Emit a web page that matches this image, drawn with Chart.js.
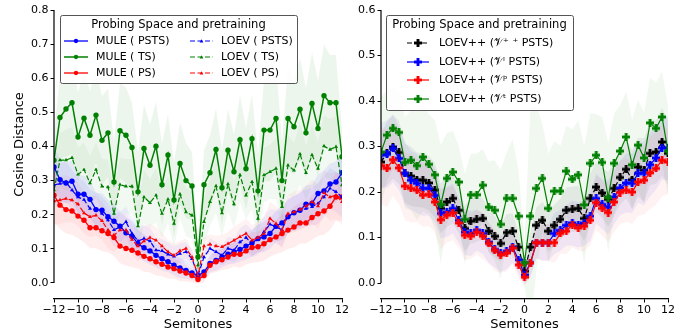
<!DOCTYPE html>
<html>
<head>
<meta charset="utf-8">
<script src="https://cdn.jsdelivr.net/npm/chart.js"></script>
<style>
  html, body { margin: 0; padding: 0; background: #fff; }
  #wrap { display: flex; width: 694px; height: 332px; }
  canvas { display: block; }
</style>
</head>
<body>
<div id="wrap">
  <canvas id="left" width="352" height="332"></canvas>
  <canvas id="right" width="342" height="332"></canvas>
</div>
<script>
// x positions (semitones), half-step grid
const semitones = [-12,-11.5,-11,-10.5,-10,-9.5,-9,-8.5,-8,-7.5,-7,-6.5,-6,-5.5,-5,-4.5,-4,-3.5,-3,-2.5,-2,-1.5,-1,-0.5,
  0,0.5,1,1.5,2,2.5,3,3.5,4,4.5,5,5.5,6,6.5,7,7.5,8,8.5,9,9.5,10,10.5,11,11.5,12];
const xTicks = [-12,-10,-8,-6,-4,-2,0,2,4,6,8,10,12];
const yTicksLeft = [0,0.1,0.2,0.3,0.4,0.5,0.6,0.7,0.8];
const yTicksRight = [0,0.1,0.2,0.3,0.4,0.5,0.6];

// ---- left panel ----
const mulePsts = [0.34,0.303,0.293,0.298,0.26,0.26,0.245,0.215,0.213,0.194,0.181,0.166,0.147,0.137,0.115,0.103,0.094,0.081,0.071,0.062,0.052,0.044,0.037,0.029,
  0.022,0.032,0.057,0.066,0.076,0.084,0.091,0.098,0.108,0.117,0.13,0.135,0.145,0.166,0.176,0.194,0.206,0.213,0.231,0.233,0.262,0.27,0.29,0.296,0.323];
const muleTs = [0.36,0.485,0.51,0.528,0.428,0.483,0.433,0.492,0.418,0.44,0.296,0.446,0.433,0.397,0.267,0.394,0.345,0.401,0.288,0.375,0.243,0.35,0.30,0.284,
  0.076,0.288,0.323,0.391,0.279,0.389,0.326,0.42,0.335,0.423,0.27,0.448,0.448,0.482,0.30,0.482,0.458,0.509,0.44,0.526,0.453,0.549,0.528,0.528,0.37];
const mulePs = [0.257,0.228,0.215,0.211,0.196,0.184,0.162,0.162,0.153,0.145,0.133,0.108,0.101,0.096,0.088,0.078,0.071,0.062,0.055,0.047,0.042,0.035,0.029,0.022,
  0.01,0.022,0.052,0.062,0.068,0.076,0.084,0.084,0.094,0.104,0.106,0.115,0.127,0.135,0.145,0.155,0.164,0.176,0.176,0.192,0.203,0.211,0.225,0.252,0.252];
const loevPsts = [0.287,0.291,0.296,0.272,0.252,0.244,0.218,0.215,0.203,0.184,0.156,0.164,0.179,0.145,0.123,0.13,0.123,0.096,0.094,0.084,0.078,0.086,0.091,0.071,
  0.022,0.076,0.101,0.091,0.081,0.101,0.096,0.12,0.133,0.115,0.127,0.15,0.172,0.164,0.156,0.198,0.203,0.213,0.218,0.223,0.233,0.252,0.277,0.267,0.252];
const loevTs = [0.272,0.36,0.36,0.367,0.318,0.332,0.293,0.332,0.283,0.281,0.203,0.288,0.283,0.283,0.167,0.252,0.235,0.257,0.203,0.245,0.174,0.26,0.208,0.198,
  0.052,0.179,0.238,0.284,0.205,0.29,0.231,0.316,0.257,0.296,0.189,0.316,0.326,0.335,0.223,0.345,0.33,0.378,0.323,0.375,0.335,0.401,0.391,0.399,0.287];
const loevPs = [0.24,0.243,0.247,0.243,0.231,0.205,0.194,0.198,0.182,0.155,0.14,0.155,0.155,0.127,0.108,0.123,0.133,0.125,0.108,0.091,0.081,0.094,0.101,0.076,
  0.022,0.108,0.113,0.108,0.106,0.115,0.125,0.135,0.145,0.125,0.133,0.145,0.189,0.174,0.155,0.203,0.208,0.215,0.225,0.238,0.225,0.264,0.252,0.257,0.238];

// spread of the shaded bands (left)
const sdMulePsts = [0.06,0.06,0.06,0.06,0.055,0.055,0.055,0.05,0.05,0.05,0.05,0.045,0.045,0.045,0.04,0.04,0.04,0.035,0.035,0.03,0.03,0.03,0.025,0.02,
  0.012,0.02,0.025,0.03,0.03,0.03,0.035,0.035,0.04,0.04,0.04,0.045,0.045,0.045,0.05,0.05,0.05,0.05,0.055,0.055,0.055,0.06,0.06,0.06,0.06];
const sdMuleTs = [0.08,0.12,0.14,0.15,0.13,0.14,0.13,0.14,0.13,0.13,0.12,0.14,0.14,0.13,0.12,0.13,0.12,0.13,0.12,0.12,0.11,0.12,0.11,0.10,
  0.05,0.10,0.11,0.12,0.11,0.12,0.11,0.13,0.12,0.13,0.11,0.15,0.15,0.16,0.12,0.15,0.14,0.15,0.13,0.15,0.14,0.15,0.14,0.14,0.08];
const sdMulePs = [0.08,0.07,0.07,0.07,0.065,0.065,0.06,0.06,0.06,0.055,0.055,0.05,0.05,0.05,0.045,0.045,0.04,0.04,0.035,0.035,0.03,0.03,0.025,0.02,
  0.012,0.02,0.025,0.03,0.03,0.035,0.035,0.04,0.04,0.045,0.045,0.05,0.05,0.05,0.055,0.055,0.06,0.06,0.06,0.065,0.065,0.07,0.07,0.07,0.07];
const sdLoevPsts = [0.06,0.06,0.06,0.06,0.055,0.055,0.055,0.05,0.05,0.05,0.05,0.045,0.045,0.045,0.04,0.04,0.04,0.035,0.035,0.035,0.03,0.03,0.03,0.025,
  0.015,0.025,0.03,0.03,0.03,0.035,0.035,0.04,0.04,0.04,0.045,0.045,0.045,0.05,0.05,0.05,0.05,0.055,0.055,0.055,0.06,0.06,0.06,0.06,0.06];
const sdLoevTs = [0.06,0.08,0.09,0.09,0.08,0.08,0.08,0.08,0.08,0.08,0.07,0.08,0.08,0.08,0.07,0.08,0.07,0.08,0.07,0.07,0.07,0.07,0.07,0.07,
  0.04,0.07,0.07,0.08,0.07,0.08,0.07,0.08,0.07,0.08,0.07,0.08,0.08,0.09,0.07,0.09,0.08,0.09,0.08,0.09,0.08,0.09,0.09,0.09,0.07];
const sdLoevPs = [0.07,0.07,0.07,0.065,0.065,0.06,0.06,0.06,0.055,0.055,0.05,0.05,0.05,0.045,0.045,0.045,0.04,0.04,0.04,0.035,0.035,0.03,0.03,0.025,
  0.015,0.025,0.03,0.03,0.035,0.035,0.04,0.04,0.045,0.045,0.045,0.05,0.05,0.05,0.055,0.055,0.06,0.06,0.06,0.065,0.065,0.065,0.07,0.07,0.07];

// ---- right panel ----
const lppAll = [0.266,0.285,0.299,0.287,0.241,0.235,0.227,0.226,0.22,0.204,0.164,0.178,0.186,0.16,0.12,0.136,0.14,0.142,0.114,0.103,0.087,0.111,0.114,0.079,
  0.026,0.079,0.127,0.138,0.114,0.127,0.14,0.16,0.162,0.164,0.142,0.186,0.211,0.198,0.184,0.208,0.232,0.25,0.227,0.255,0.248,0.285,0.288,0.31,0.285];
const lppI = [0.281,0.283,0.296,0.274,0.241,0.226,0.219,0.208,0.208,0.193,0.153,0.156,0.164,0.138,0.112,0.109,0.116,0.109,0.09,0.074,0.065,0.07,0.079,0.051,
  0.018,0.045,0.089,0.089,0.089,0.109,0.116,0.127,0.132,0.128,0.132,0.147,0.186,0.173,0.167,0.189,0.209,0.22,0.219,0.241,0.241,0.26,0.275,0.297,0.297];
const lppP = [0.258,0.252,0.271,0.253,0.213,0.208,0.204,0.193,0.195,0.178,0.139,0.149,0.154,0.132,0.105,0.103,0.112,0.103,0.087,0.072,0.062,0.066,0.077,0.04,
  0.013,0.044,0.089,0.089,0.089,0.089,0.109,0.114,0.128,0.121,0.125,0.138,0.177,0.164,0.155,0.178,0.199,0.204,0.2,0.222,0.226,0.242,0.252,0.27,0.266];
const lppT = [0.288,0.325,0.34,0.331,0.265,0.27,0.258,0.277,0.261,0.238,0.173,0.23,0.244,0.222,0.14,0.194,0.194,0.215,0.167,0.16,0.129,0.186,0.186,0.147,
  0.045,0.147,0.208,0.23,0.164,0.202,0.202,0.246,0.228,0.238,0.172,0.263,0.281,0.265,0.188,0.263,0.29,0.321,0.26,0.303,0.275,0.352,0.34,0.365,0.29];

const sdLppAll = [0.06,0.07,0.07,0.07,0.065,0.065,0.06,0.06,0.06,0.06,0.055,0.055,0.055,0.05,0.05,0.05,0.05,0.045,0.045,0.045,0.04,0.04,0.04,0.035,
  0.02,0.035,0.04,0.04,0.045,0.045,0.045,0.05,0.05,0.05,0.05,0.055,0.055,0.055,0.06,0.06,0.06,0.065,0.065,0.065,0.07,0.07,0.07,0.075,0.07];
const sdLppI = [0.07,0.075,0.075,0.07,0.07,0.065,0.065,0.06,0.06,0.06,0.055,0.055,0.055,0.05,0.05,0.05,0.045,0.045,0.045,0.04,0.04,0.04,0.035,0.03,
  0.02,0.03,0.035,0.04,0.04,0.045,0.045,0.045,0.05,0.05,0.05,0.055,0.055,0.055,0.06,0.06,0.06,0.065,0.065,0.065,0.07,0.07,0.07,0.07,0.07];
const sdLppP = [0.085,0.085,0.08,0.08,0.075,0.075,0.07,0.07,0.07,0.065,0.065,0.06,0.06,0.055,0.055,0.05,0.05,0.05,0.045,0.045,0.04,0.04,0.035,0.03,
  0.02,0.03,0.035,0.04,0.04,0.045,0.045,0.05,0.05,0.05,0.055,0.055,0.06,0.06,0.065,0.065,0.07,0.07,0.07,0.075,0.075,0.08,0.08,0.08,0.07];
const sdLppT = [0.12,0.1,0.09,0.09,0.1,0.11,0.12,0.12,0.11,0.12,0.13,0.1,0.09,0.08,0.1,0.09,0.09,0.08,0.1,0.11,0.12,0.1,0.13,0.1,
  0.05,0.24,0.18,0.12,0.12,0.11,0.1,0.1,0.11,0.12,0.13,0.11,0.09,0.1,0.12,0.11,0.1,0.1,0.1,0.1,0.1,0.1,0.1,0.1,0.1];

const BLUE = '#0000ff', GREEN = '#008000', RED = '#ff0000', BLACK = '#000000';

function rgba(hex, a) {
  const n = parseInt(hex.slice(1), 16);
  return `rgba(${n >> 16},${(n >> 8) & 255},${n & 255},${a})`;
}

// filled plus marker, like matplotlib 'P'
function plusMarker(color, size) {
  const c = document.createElement('canvas');
  c.width = size; c.height = size;
  const g = c.getContext('2d');
  const t = size * 0.36, o = (size - t) / 2;
  g.fillStyle = color;
  g.fillRect(o, 0, t, size);
  g.fillRect(0, o, size, t);
  return c;
}

function pts(vals) {
  return vals.map((v, i) => ({ x: semitones[i], y: v }));
}

function addSeries(list, label, vals, sd, s) {
  const lo = list.length;
  list.push({ data: pts(vals.map((v, i) => v - sd[i])), pointRadius: 0, borderWidth: 0,
    fill: false, order: 100 });
  list.push({ data: pts(vals.map((v, i) => v + sd[i])), pointRadius: 0, borderWidth: 0,
    fill: { target: lo }, backgroundColor: rgba(s.color, s.bandAlpha), order: 100 });
  list.push({
    label: label, data: pts(vals), borderColor: s.color, backgroundColor: s.color,
    borderWidth: s.lw, borderDash: s.dash || [], pointStyle: s.marker,
    pointRadius: s.r, pointBackgroundColor: s.color, pointBorderWidth: 0,
    fill: false, tension: 0, order: 50 - list.length
  });
}

const leftSets = [];
const leftStyles = [
  ['MULE ( PSTS)', mulePsts, sdMulePsts, { color: BLUE, lw: 1.3, marker: 'circle', r: 2.7, bandAlpha: 0.07 }],
  ['MULE ( TS)', muleTs, sdMuleTs, { color: GREEN, lw: 1.5, marker: 'circle', r: 2.7, bandAlpha: 0.07 }],
  ['MULE ( PS)', mulePs, sdMulePs, { color: RED, lw: 1.3, marker: 'circle', r: 2.7, bandAlpha: 0.07 }],
  ['LOEV ( PSTS)', loevPsts, sdLoevPsts, { color: BLUE, lw: 1.2, dash: [5, 2.5], marker: 'triangle', r: 2.3, bandAlpha: 0.05 }],
  ['LOEV ( TS)', loevTs, sdLoevTs, { color: GREEN, lw: 1.2, dash: [5, 2.5], marker: 'triangle', r: 2.3, bandAlpha: 0.05 }],
  ['LOEV ( PS)', loevPs, sdLoevPs, { color: RED, lw: 1.2, dash: [5, 2.5], marker: 'triangle', r: 2.3, bandAlpha: 0.05 }]
];
leftStyles.forEach(d => addSeries(leftSets, d[0], d[1], d[2], d[3]));

const rightSets = [];
const rightStyles = [
  ['LOEV++ (\u{1D4B1}\u207A \u207A PSTS)', lppAll, sdLppAll, { color: BLACK, lw: 1.2, dash: [5, 2.5], marker: plusMarker(BLACK, 8), r: 4, bandAlpha: 0.06 }],
  ['LOEV++ (\u{1D4B1}\u2071 PSTS)', lppI, sdLppI, { color: BLUE, lw: 1.2, marker: plusMarker(BLUE, 8), r: 4, bandAlpha: 0.06 }],
  ['LOEV++ (\u{1D4B1}\u1D56 PSTS)', lppP, sdLppP, { color: RED, lw: 1.2, marker: plusMarker(RED, 8), r: 4, bandAlpha: 0.05 }],
  ['LOEV++ (\u{1D4B1}\u1D57 PSTS)', lppT, sdLppT, { color: GREEN, lw: 1.2, marker: plusMarker(GREEN, 8), r: 4, bandAlpha: 0.06 }]
];
rightStyles.forEach(d => addSeries(rightSets, d[0], d[1], d[2], d[3]));

Chart.defaults.font.family = "'DejaVu Sans', sans-serif";
Chart.defaults.color = '#000';

// y spine only spans the data range, the x spine sits a little lower; y title centred on it
const spinePlugin = {
  id: 'spine',
  afterDraw(chart, args, o) {
    const y = chart.scales.y, ctx = chart.ctx;
    const top = y.getPixelForValue(y.max), bot = y.getPixelForValue(0);
    ctx.save();
    ctx.strokeStyle = '#000';
    ctx.lineWidth = 1.2;
    ctx.beginPath();
    ctx.moveTo(chart.chartArea.left, top);
    ctx.lineTo(chart.chartArea.left, bot);
    ctx.stroke();
    if (o.title) {
      ctx.translate(o.titleX, (top + bot) / 2 - 2);
      ctx.rotate(-Math.PI / 2);
      ctx.font = '13px "DejaVu Sans"';
      ctx.fillStyle = '#000';
      ctx.textAlign = 'center';
      ctx.textBaseline = 'middle';
      ctx.fillText(o.title, 0, 0);
    }
    ctx.restore();
  }
};

function drawMarker(ctx, m, color, x, y, r) {
  ctx.fillStyle = color;
  if (m instanceof HTMLCanvasElement) {
    ctx.drawImage(m, x - m.width / 2, y - m.height / 2);
  } else if (m === 'triangle') {
    ctx.beginPath();
    ctx.moveTo(x, y - r);
    ctx.lineTo(x + r, y + r * 0.8);
    ctx.lineTo(x - r, y + r * 0.8);
    ctx.closePath();
    ctx.fill();
  } else {
    ctx.beginPath();
    ctx.arc(x, y, r, 0, Math.PI * 2);
    ctx.fill();
  }
}

// matplotlib-like framed legend with title
const boxLegend = {
  id: 'boxLegend',
  afterDraw(chart, args, o) {
    const ctx = chart.ctx;
    ctx.save();
    ctx.fillStyle = 'rgba(255,255,255,0.8)';
    ctx.strokeStyle = '#555';
    ctx.lineWidth = 1;
    ctx.beginPath();
    ctx.roundRect(o.x + 0.5, o.y + 0.5, o.w, o.h, 2);
    ctx.fill();
    ctx.stroke();
    ctx.fillStyle = '#000';
    ctx.font = o.titleFont;
    ctx.textAlign = 'center';
    ctx.textBaseline = 'middle';
    ctx.fillText(o.title, o.x + o.w / 2, o.titleY);
    ctx.textAlign = 'left';
    ctx.font = o.font;
    const lines = chart.data.datasets.filter(d => d.label);
    lines.forEach((d, i) => {
      const col = Math.floor(i / o.rows.length), row = i % o.rows.length;
      const c = o.cols[col], y = o.rows[row];
      ctx.strokeStyle = d.borderColor;
      ctx.lineWidth = d.borderWidth;
      ctx.setLineDash(d.borderDash);
      ctx.beginPath();
      ctx.moveTo(c.x0, y);
      ctx.lineTo(c.x1, y);
      ctx.stroke();
      ctx.setLineDash([]);
      drawMarker(ctx, d.pointStyle, d.borderColor, (c.x0 + c.x1) / 2, y, d.pointRadius * 0.8);
      ctx.fillStyle = '#000';
      ctx.fillText(d.label, c.tx, y + 0.5);
    });
    ctx.restore();
  }
};

function makeOptions(yMin, yMax, yTicks, yWidth, yTitle, padRight, legend) {
  return {
    responsive: false,
    animation: false,
    layout: { padding: { top: 10, right: padRight, left: 0, bottom: 0 } },
    plugins: { legend: { display: false }, tooltip: { enabled: false }, boxLegend: legend,
      spine: { title: yTitle, titleX: 20 } },
    scales: {
      x: {
        type: 'linear', min: -12, max: 12,
        afterBuildTicks: s => { s.ticks = xTicks.map(v => ({ value: v })); },
        afterFit: s => { s.height = 33; },
        grid: { drawOnChartArea: false, tickLength: 3.5, color: '#000', lineWidth: 1 },
        border: { display: true, color: '#000', width: 1.2 },
        ticks: { font: { size: 11 }, padding: 1, maxRotation: 0, autoSkip: false,
          callback: v => (v < 0 ? '\u2212' + Math.abs(v) : String(v)) },
        title: { display: true, text: 'Semitones', font: { size: 13 }, padding: { top: 0, bottom: 0 } }
      },
      y: {
        min: yMin, max: yMax,
        afterBuildTicks: s => { s.ticks = yTicks.map(v => ({ value: v })); },
        afterFit: s => { s.width = yWidth; },
        grid: { drawOnChartArea: false, tickLength: 3.5, color: '#000', lineWidth: 1 },
        border: { display: false },
        ticks: { font: { size: 11 }, padding: 2, autoSkip: false, callback: v => v.toFixed(1) }
      }
    }
  };
}

new Chart(document.getElementById('left'), {
  type: 'line',
  data: { datasets: leftSets },
  options: makeOptions(-0.047, 0.8, yTicksLeft, 54, 'Cosine Distance', 10, {
    x: 60, y: 15, w: 237, h: 68, title: 'Probing Space and pretraining', titleY: 25,
    font: '11px "DejaVu Sans"', titleFont: '11.5px "DejaVu Sans"',
    rows: [41, 57, 73],
    cols: [{ x0: 64, x1: 88, tx: 96 }, { x0: 190, x1: 213, tx: 221 }]
  }),
  plugins: [spinePlugin, boxLegend]
});

new Chart(document.getElementById('right'), {
  type: 'line',
  data: { datasets: rightSets },
  options: makeOptions(-0.035, 0.6, yTicksRight, 29, '', 26, {
    x: 34, y: 15, w: 187, h: 95, title: 'Probing Space and pretraining', titleY: 25,
    font: '11px "DejaVu Sans"', titleFont: '11.5px "DejaVu Sans"',
    rows: [43, 62, 80, 99],
    cols: [{ x0: 55, x1: 77, tx: 87 }]
  }),
  plugins: [spinePlugin, boxLegend]
});
</script>
</body>
</html>
